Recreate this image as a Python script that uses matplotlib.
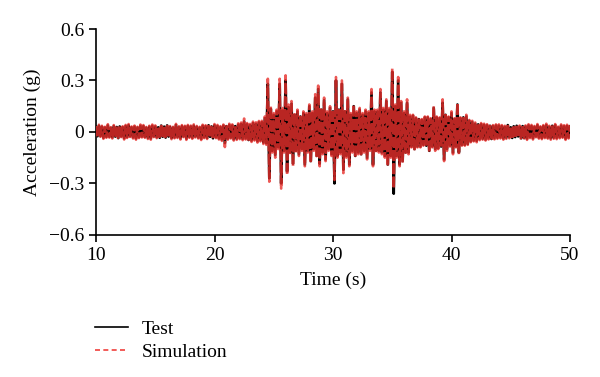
import numpy as np
import matplotlib
matplotlib.use('Agg')
import matplotlib.pyplot as plt
from matplotlib.lines import Line2D

# sample grid of the peak readings (s)
t_start = 10.0
t_step = 0.125

# test record, peaks read every 0.125 s from 10 s to 50 s (g), one row = 2 s
test_acc = [
    0.030, -0.025, 0.036, -0.024, 0.031, -0.034, 0.026, -0.029, 0.038, -0.028, 0.024, -0.032, 0.034, -0.027, 0.029, -0.036,
    0.032, -0.026, 0.028, -0.037, 0.035, -0.030, 0.039, -0.025, 0.027, -0.032, 0.031, -0.038, 0.026, -0.031, 0.036, -0.027,
    0.034, -0.029, 0.025, -0.035, 0.031, -0.038, 0.036, -0.026, 0.032, -0.031, 0.027, -0.034, 0.037, -0.028, 0.031, -0.033,
    0.038, -0.027, 0.029, -0.036, 0.026, -0.032, 0.040, -0.030, 0.028, -0.037, 0.034, -0.026, 0.031, -0.039, 0.035, -0.029,
    0.032, -0.034, 0.037, -0.027, 0.030, -0.033, 0.026, -0.040, 0.036, -0.031, 0.033, -0.035, 0.039, -0.028, 0.032, -0.037,
    0.039, -0.031, 0.035, -0.038, 0.029, -0.044, 0.037, -0.065, 0.034, -0.039, 0.041, -0.033, 0.038, -0.043, 0.034, -0.040,
    0.043, -0.036, 0.047, -0.041, 0.062, -0.038, 0.045, -0.047, 0.040, -0.050, 0.052, -0.043, 0.048, -0.054, 0.056, -0.048,
    0.057, -0.062, 0.080, -0.066, 0.280, -0.270, 0.135, -0.110, 0.100, -0.135, 0.120, -0.090, 0.280, -0.300, 0.125, -0.110,
    0.300, -0.230, 0.145, -0.120, 0.165, -0.185, 0.100, -0.110, 0.120, -0.130, 0.090, -0.100, 0.110, -0.190, 0.100, -0.110,
    0.150, -0.170, 0.110, -0.100, 0.200, -0.140, 0.250, -0.185, 0.130, -0.120, 0.185, -0.160, 0.110, -0.100, 0.140, -0.130,
    0.120, -0.300, 0.300, -0.140, 0.130, -0.120, 0.280, -0.220, 0.120, -0.140, 0.190, -0.190, 0.100, -0.110, 0.150, -0.140,
    0.110, -0.120, 0.130, -0.130, 0.100, -0.110, 0.120, -0.150, 0.110, -0.100, 0.230, -0.190, 0.120, -0.110, 0.120, -0.110,
    0.230, -0.120, 0.130, -0.140, 0.180, -0.190, 0.130, -0.140, 0.350, -0.360, 0.150, -0.140, 0.300, -0.190, 0.170, -0.170,
    0.110, -0.120, 0.170, -0.120, 0.090, -0.085, 0.095, -0.100, 0.080, -0.085, 0.075, -0.085, 0.070, -0.075, 0.085, -0.080,
    0.085, -0.110, 0.075, -0.085, 0.140, -0.100, 0.085, -0.095, 0.080, -0.085, 0.170, -0.160, 0.100, -0.100, 0.085, -0.080,
    0.110, -0.120, 0.075, -0.085, 0.160, -0.120, 0.080, -0.075, 0.085, -0.075, 0.090, -0.070, 0.065, -0.055, 0.058, -0.050,
    0.048, -0.052, 0.044, -0.042, 0.045, -0.040, 0.042, -0.044, 0.039, -0.038, 0.036, -0.041, 0.034, -0.037, 0.038, -0.034,
    0.037, -0.032, 0.034, -0.038, 0.030, -0.034, 0.040, -0.031, 0.027, -0.035, 0.033, -0.030, 0.036, -0.026, 0.031, -0.037,
    0.034, -0.036, 0.032, -0.039, 0.038, -0.030, 0.035, -0.037, 0.030, -0.026, 0.039, -0.033, 0.028, -0.036, 0.034, -0.030,
    0.040, -0.033, 0.030, -0.038, 0.036, -0.034, 0.039, -0.035, 0.026, -0.031, 0.037, -0.029, 0.033, -0.039, 0.035, -0.032,
    0.033,
]

# simulation, same sample grid (g)
sim_acc = [
    0.035, -0.030, 0.042, -0.028, 0.036, -0.040, 0.030, -0.034, 0.045, -0.033, 0.028, -0.038, 0.040, -0.031, 0.034, -0.042,
    0.038, -0.030, 0.033, -0.044, 0.041, -0.035, 0.046, -0.029, 0.032, -0.038, 0.037, -0.045, 0.030, -0.036, 0.043, -0.032,
    0.040, -0.034, 0.029, -0.041, 0.036, -0.045, 0.043, -0.030, 0.038, -0.036, 0.031, -0.040, 0.044, -0.033, 0.036, -0.039,
    0.045, -0.031, 0.034, -0.042, 0.030, -0.037, 0.047, -0.035, 0.033, -0.044, 0.040, -0.030, 0.036, -0.046, 0.041, -0.034,
    0.037, -0.040, 0.044, -0.032, 0.035, -0.038, 0.030, -0.047, 0.042, -0.036, 0.039, -0.041, 0.046, -0.033, 0.038, -0.043,
    0.046, -0.036, 0.041, -0.044, 0.034, -0.052, 0.043, -0.088, 0.040, -0.045, 0.048, -0.038, 0.044, -0.050, 0.039, -0.046,
    0.050, -0.042, 0.055, -0.048, 0.078, -0.044, 0.052, -0.055, 0.047, -0.058, 0.060, -0.050, 0.056, -0.062, 0.064, -0.055,
    0.065, -0.070, 0.090, -0.075, 0.310, -0.290, 0.150, -0.120, 0.110, -0.150, 0.130, -0.100, 0.310, -0.330, 0.140, -0.120,
    0.330, -0.250, 0.160, -0.130, 0.180, -0.200, 0.110, -0.120, 0.130, -0.140, 0.100, -0.110, 0.120, -0.200, 0.110, -0.120,
    0.160, -0.180, 0.120, -0.110, 0.220, -0.150, 0.270, -0.200, 0.140, -0.130, 0.200, -0.170, 0.120, -0.110, 0.150, -0.140,
    0.130, -0.280, 0.320, -0.150, 0.140, -0.130, 0.300, -0.240, 0.130, -0.150, 0.200, -0.200, 0.110, -0.120, 0.160, -0.150,
    0.120, -0.130, 0.140, -0.140, 0.110, -0.120, 0.130, -0.160, 0.120, -0.110, 0.250, -0.200, 0.130, -0.120, 0.130, -0.120,
    0.250, -0.130, 0.140, -0.150, 0.190, -0.200, 0.140, -0.150, 0.370, -0.330, 0.160, -0.150, 0.320, -0.200, 0.180, -0.180,
    0.120, -0.130, 0.190, -0.130, 0.100, -0.090, 0.100, -0.110, 0.085, -0.090, 0.080, -0.090, 0.075, -0.080, 0.090, -0.085,
    0.090, -0.120, 0.080, -0.090, 0.150, -0.110, 0.090, -0.100, 0.085, -0.090, 0.190, -0.170, 0.110, -0.110, 0.090, -0.085,
    0.120, -0.130, 0.080, -0.090, 0.170, -0.130, 0.085, -0.080, 0.090, -0.080, 0.100, -0.075, 0.070, -0.060, 0.065, -0.055,
    0.055, -0.060, 0.050, -0.048, 0.052, -0.045, 0.048, -0.050, 0.045, -0.044, 0.042, -0.047, 0.040, -0.043, 0.044, -0.040,
    0.044, -0.038, 0.040, -0.045, 0.036, -0.040, 0.047, -0.037, 0.032, -0.041, 0.039, -0.035, 0.043, -0.030, 0.037, -0.044,
    0.040, -0.043, 0.038, -0.046, 0.045, -0.036, 0.041, -0.044, 0.035, -0.031, 0.046, -0.039, 0.033, -0.042, 0.040, -0.036,
    0.048, -0.039, 0.036, -0.045, 0.043, -0.040, 0.046, -0.042, 0.031, -0.037, 0.044, -0.034, 0.039, -0.046, 0.042, -0.038,
    0.040,
]

x_ticks = [10, 20, 30, 40, 50]
y_ticks = [-0.6, -0.3, 0, 0.3, 0.6]
y_labels = ['\u22120.6', '\u22120.3', '0', '0.3', '0.6']

plt.rcParams['font.family'] = ['Liberation Serif', 'DejaVu Serif']

test_time = t_start + t_step * np.arange(len(test_acc))
sim_time = t_start + t_step * np.arange(len(sim_acc))

fig = plt.figure(figsize=(6.0, 3.77), dpi=100)
ax = fig.add_axes([0.16, 0.377, 0.79, 0.546])

ax.plot(test_time, test_acc, color='black', linewidth=1.9, zorder=2)
ax.plot(sim_time, sim_acc, color='#e8302c', linewidth=1.9, linestyle=(0, (4, 1)),
        alpha=0.8, zorder=3)

ax.set_xlim(10, 50)
ax.set_ylim(-0.6, 0.6)
ax.set_xticks(x_ticks)
ax.set_yticks(y_ticks)
ax.set_yticklabels(y_labels)
ax.tick_params(direction='out', length=5, width=1.2, labelsize=14, colors='black')
for side in ['top', 'right']:
    ax.spines[side].set_visible(False)
for side in ['left', 'bottom']:
    ax.spines[side].set_linewidth(1.2)

ax.set_xlabel('Time (s)', fontsize=14, labelpad=6)
ax.set_ylabel('Acceleration (g)', fontsize=14, labelpad=6)

handles = [Line2D([], [], color='black', linewidth=1.2),
           Line2D([], [], color='#f0403c', linewidth=1.2, linestyle=(0, (3, 2)))]
fig.legend(handles, ['Test', 'Simulation'], loc='upper left', bbox_to_anchor=(0.145, 0.172),
           frameon=False, fontsize=14, handlelength=1.7, handletextpad=0.7, labelspacing=0.3,
           borderaxespad=0)

plt.savefig('out.png', dpi=100)
